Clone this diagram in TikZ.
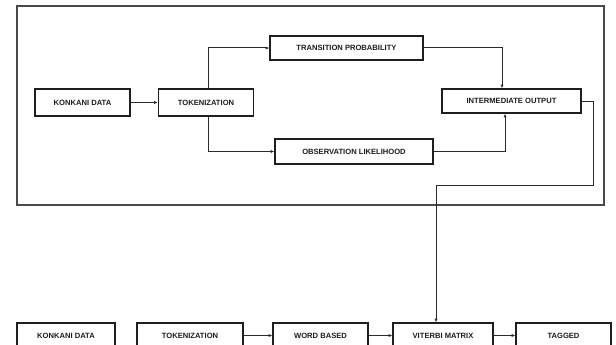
\documentclass[tikz,border=0pt]{standalone}
\usepackage{fontspec}
\setmainfont{Liberation Sans}
\usetikzlibrary{arrows.meta}
\definecolor{ink}{HTML}{1E1E1E}
\definecolor{lineink}{HTML}{2A2A2A}
\tikzset{
  box/.style={draw=ink, line width=1.6pt, inner sep=0pt, text=ink,
    font=\fontsize{7.6}{8}\selectfont\bfseries, align=center},
  conn/.style={draw=lineink, line width=1pt, -{Latex[length=3.5pt,width=3.2pt]}},
  frame/.style={draw=lineink!85, line width=1.4pt}
}
\begin{document}
\begin{tikzpicture}[x=1pt,y=-1pt]
\clip (0,0) rectangle (616,345);
\fill[white] (0,0) rectangle (616,345);
% frame
\draw[frame] (17,6) rectangle (604,205);
% top nodes
\node[box, minimum width=95pt, minimum height=27pt] (kd) at (82.5,102.5) {KONKANI DATA};
\node[box, minimum width=95pt, minimum height=27pt] (tok) at (206,102.5) {TOKENIZATION};
\node[box, minimum width=153pt, minimum height=24pt] (tp) at (346.5,48) {TRANSITION PROBABILITY};
\node[box, minimum width=158pt, minimum height=25pt] (ol) at (354,151.5) {OBSERVATION LIKELIHOOD};
\node[box, minimum width=139pt, minimum height=24pt] (io) at (511.5,101) {INTERMEDIATE OUTPUT};
% bottom nodes
\node[box, minimum width=98pt, minimum height=25pt] (kd2) at (66,335.5) {KONKANI DATA};
\node[box, minimum width=106pt, minimum height=25pt] (tok2) at (190,335.5) {TOKENIZATION};
\node[box, minimum width=95pt, minimum height=25pt] (wb) at (320.5,335.5) {WORD BASED};
\node[box, minimum width=100pt, minimum height=25pt] (vm) at (443,335.5) {VITERBI MATRIX};
\node[box, minimum width=95pt, minimum height=25pt] (tg) at (563.5,335.5) {TAGGED};
% connectors top
\draw[conn] (kd) -- (tok);
\draw[conn] ([xshift=2pt]tok.north) |- (tp.west);
\draw[conn] ([xshift=2pt]tok.south) |- (ol.west);
\draw[conn] (tp.east) -| ([xshift=-9.5pt]io.north);
\draw[conn] (ol.east) -| ([xshift=-6.5pt]io.south);
\coordinate (t1) at (593,185);
\draw[conn] (io.east) -| (t1) -| ([xshift=-7pt]vm.north);
% connectors bottom
\draw[conn] (tok2) -- (wb);
\draw[conn] (wb) -- (vm);
\draw[conn] (vm) -- (tg);
\end{tikzpicture}
\end{document}
